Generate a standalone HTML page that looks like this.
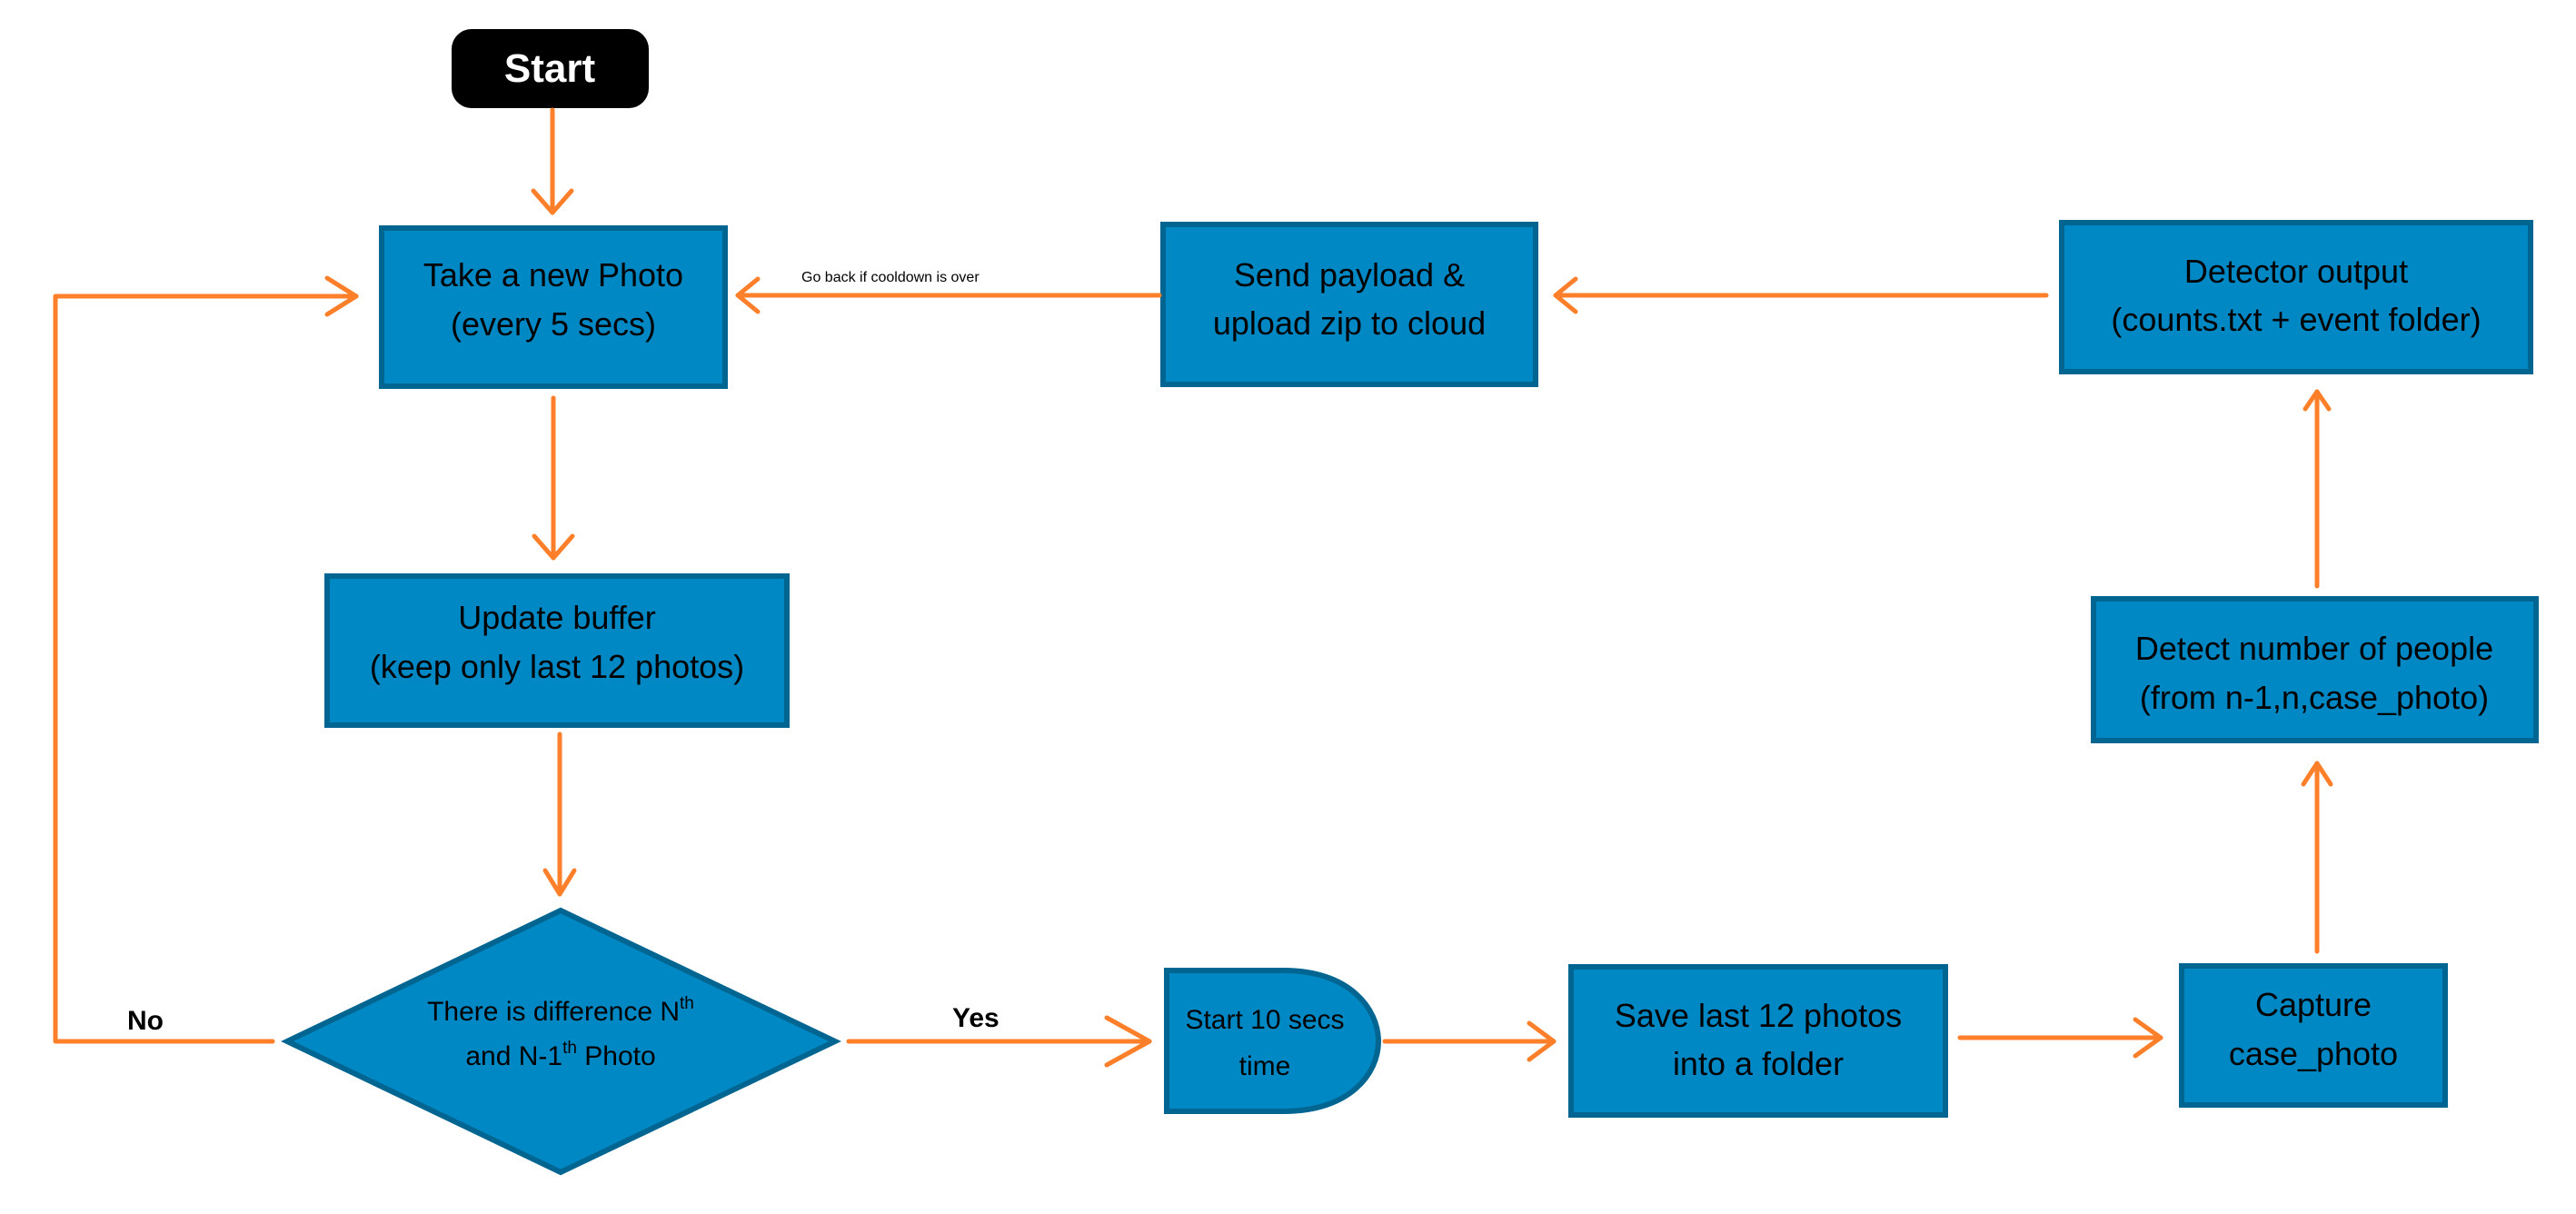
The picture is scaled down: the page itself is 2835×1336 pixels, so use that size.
<!DOCTYPE html>
<html><head><meta charset="utf-8"><style>
html,body{margin:0;padding:0;background:#fff;}
svg{display:block;}
text{font-family:"Liberation Sans",sans-serif;fill:#000;}
</style></head><body>
<svg width="2835" height="1336" viewBox="0 0 2835 1336" xmlns="http://www.w3.org/2000/svg">
<g fill="#0088c4" stroke="#006590" stroke-width="6">
<rect x="420" y="251" width="378" height="174"/>
<rect x="360" y="634" width="506" height="164"/>
<rect x="1280" y="247" width="410" height="176"/>
<rect x="2269" y="245" width="516" height="164"/>
<rect x="2304" y="659" width="487" height="156"/>
<rect x="2401" y="1063" width="290" height="153"/>
<rect x="1729" y="1064" width="412" height="163"/>
<path d="M1284 1068 H1413 C1485 1068 1517 1110 1517 1146 C1517 1182 1485 1223 1413 1223 H1284 Z"/>
<polygon points="617,1002 919,1146 617,1290 316,1146"/>
</g>
<rect x="497" y="32" width="217" height="87" rx="22" fill="#000"/>
<text x="605" y="90" font-size="44" font-weight="bold" text-anchor="middle" style="fill:#fff">Start</text>
<g stroke="#fd7f2a" stroke-width="5" fill="none" stroke-linecap="round" stroke-linejoin="round">
<line x1="608" y1="121" x2="608" y2="234"/><polyline points="587,210 608,234 629,210"/>
<line x1="609" y1="438" x2="609" y2="614"/><polyline points="588,590 609,614 630,590"/>
<line x1="616" y1="808" x2="616" y2="984"/><polyline points="600,958 616,984 632,958"/>
<polyline points="300,1146 61,1146 61,326 392,326"/><polyline points="360,306 392,326 360,346"/>
<line x1="934" y1="1146" x2="1265" y2="1146"/><polyline points="1218,1120 1265,1146 1218,1172"/>
<line x1="1524" y1="1146" x2="1710" y2="1146"/><polyline points="1683,1126 1710,1146 1683,1166"/>
<line x1="2157" y1="1142" x2="2378" y2="1142"/><polyline points="2350,1122 2378,1142 2350,1162"/>
<line x1="2550" y1="1047" x2="2550" y2="840"/><polyline points="2535,863 2550,840 2565,863"/>
<line x1="2550" y1="645" x2="2550" y2="431"/><polyline points="2537,450 2550,431 2563,450"/>
<line x1="2252" y1="325" x2="1712" y2="325"/><polyline points="1734,307 1712,325 1734,343"/>
<line x1="1276" y1="325" x2="812" y2="325"/><polyline points="834,307 812,325 834,343"/>
</g>
<g font-size="36" text-anchor="middle">
<text x="609" y="315">Take a new Photo</text>
<text x="609" y="369">(every 5 secs)</text>
<text x="613" y="692">Update buffer</text>
<text x="613" y="746">(keep only last 12 photos)</text>
<text x="1485" y="315">Send payload &amp;</text>
<text x="1485" y="368">upload zip to cloud</text>
<text x="2527" y="311">Detector output</text>
<text x="2527" y="364">(counts.txt + event folder)</text>
<text x="2547" y="726">Detect number of people</text>
<text x="2547" y="780">(from n-1,n,case_photo)</text>
<text x="2546" y="1118">Capture</text>
<text x="2546" y="1172">case_photo</text>
<text x="1935" y="1130">Save last 12 photos</text>
<text x="1935" y="1183">into a folder</text>
</g>
<g font-size="30" text-anchor="middle">
<text x="1392" y="1132">Start 10 secs</text>
<text x="1392" y="1183">time</text>
<text x="617" y="1123">There is difference N<tspan font-size="19" dy="-13">th</tspan></text>
<text x="617" y="1172">and N-1<tspan font-size="19" dy="-13">th</tspan><tspan dy="13"> Photo</tspan></text>
</g>
<text x="140" y="1133" font-size="30" font-weight="bold">No</text>
<text x="1048" y="1130" font-size="30" font-weight="bold">Yes</text>
<text x="882" y="310" font-size="16">Go back if cooldown is over</text>
</svg>
</body></html>
